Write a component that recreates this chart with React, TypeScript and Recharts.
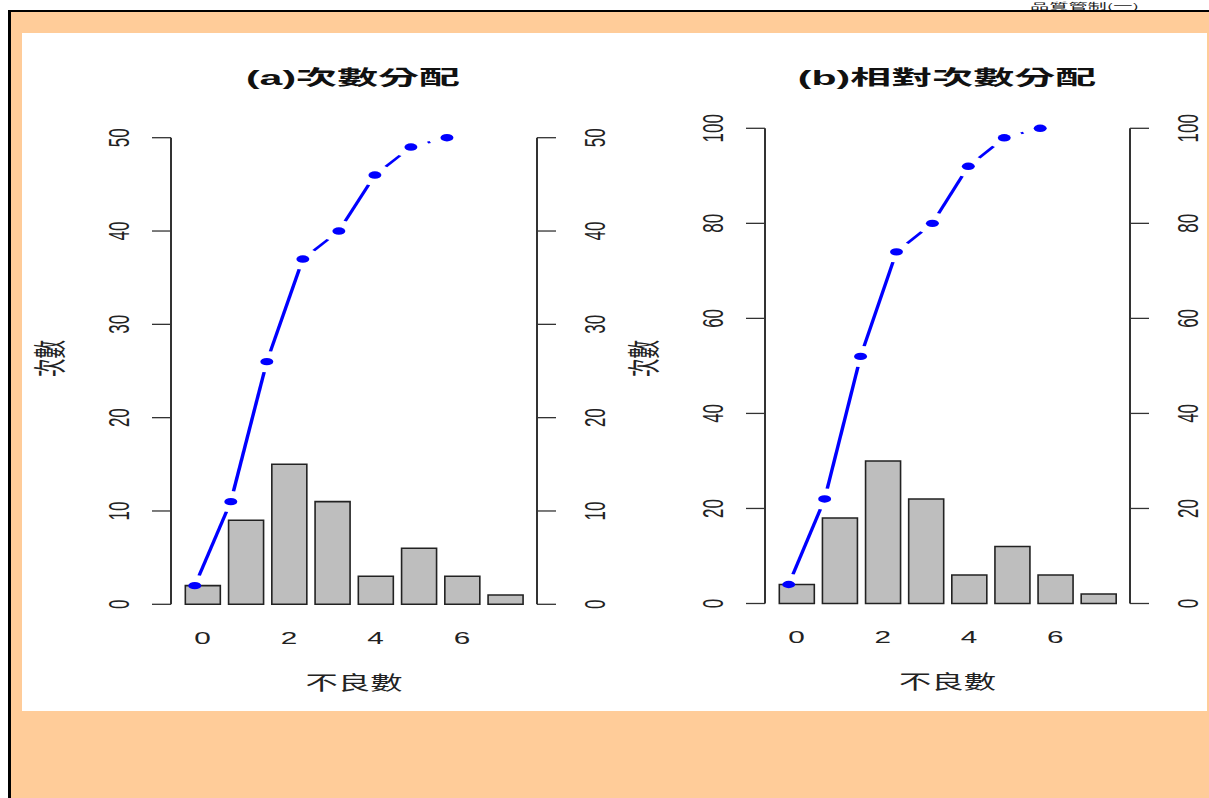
import React from 'react';
import { ComposedChart, Bar, Line, XAxis, YAxis } from 'recharts';

// 不良數 0..7 with their counts, cumulative counts and the same in percent
const defectCounts = ['0', '1', '2', '3', '4', '5', '6', '7'];
const frequency = [2, 9, 15, 11, 3, 6, 3, 1];
const cumulativeFrequency = [2, 11, 26, 37, 40, 46, 49, 50];
const relativeFrequency = [4, 18, 30, 22, 6, 12, 6, 2];
const cumulativeRelative = [4, 22, 52, 74, 80, 92, 98, 100];
const countTicks = [0, 10, 20, 30, 40, 50];
const percentTicks = [0, 20, 40, 60, 80, 100];

const SX = 1.75; // the figure is drawn wide: text and marks are stretched horizontally
const FONT = "'Liberation Sans', Arial, 'Noto Sans CJK TC', sans-serif";
const CJK = "'Noto Sans CJK TC', 'Liberation Sans', sans-serif";
const INK = '#222';
const AXIS = '#333';
const BLUE = '#0000FF';
const GAP = 10.5; // gap left around each point of the cumulative line
const Y_AXIS_W = 60;

type Margin = { top: number; right: number; bottom: number; left: number };

type PanelProps = {
  x: number;
  width: number;
  height: number;
  margin: Margin;
  title: string;
  values: number[];
  cumulative: number[];
  ticks: number[];
  yLabelY: number;
};

const leftTick = (p: any) => (
  <text
    transform={`translate(${p.x - 33.5},${p.y}) scale(${SX},1) rotate(-90)`}
    textAnchor="middle"
    dominantBaseline="central"
    fontSize={17}
    fill={INK}
    fontFamily={FONT}
  >
    {p.payload.value}
  </text>
);

const rightTick = (p: any) => (
  <text
    transform={`translate(${p.x + 39},${p.y}) scale(${SX},1) rotate(-90)`}
    textAnchor="middle"
    dominantBaseline="central"
    fontSize={17}
    fill={INK}
    fontFamily={FONT}
  >
    {p.payload.value}
  </text>
);

const bottomTick = (p: any) => (
  <text
    transform={`translate(${p.x},${p.y + 34}) scale(${SX},1)`}
    textAnchor="middle"
    dominantBaseline="central"
    fontSize={17}
    fill={INK}
    fontFamily={FONT}
  >
    {p.payload.value}
  </text>
);

// Point of the cumulative line plus the segment towards the next point,
// trimmed at both ends like a "both" type line.
const GapDot = (props: any) => {
  const { cx, cy, index, points } = props;
  if (cx == null || cy == null) return <g key={`gd-${index}`} />;
  const next = points && points[index + 1];
  let seg = null;
  if (next) {
    const dx = next.x - cx;
    const dy = next.y - cy;
    const t = GAP / Math.hypot(dx / SX, dy);
    if (t < 0.5) {
      seg = (
        <line
          x1={(cx + dx * t) / SX}
          y1={cy + dy * t}
          x2={(next.x - dx * t) / SX}
          y2={next.y - dy * t}
          stroke={BLUE}
          strokeWidth={2}
        />
      );
    }
  }
  return (
    <g key={`gd-${index}`} transform={`scale(${SX},1)`}>
      {seg}
      <circle cx={cx / SX} cy={cy} r={3.7} fill={BLUE} />
    </g>
  );
};

function Panel({ x, width, height, margin, title, values, cumulative, ticks, yLabelY }: PanelProps) {
  const rows = defectCounts.map((label, i) => ({
    label,
    idx: i,
    count: values[i],
    cum: cumulative[i],
  }));
  const max = ticks[ticks.length - 1];
  const plotLeft = margin.left + Y_AXIS_W;
  const plotRight = width - margin.right - Y_AXIS_W;
  const titleX = (plotLeft + plotRight) / 2 - 1;

  return (
    <div style={{ position: 'absolute', left: x, top: 0, width, height }}>
      <div
        style={{
          position: 'absolute',
          left: titleX - 300,
          width: 600,
          top: 44.5 - 15,
          height: 30,
          lineHeight: '30px',
          textAlign: 'center',
          fontFamily: FONT,
          fontWeight: 700,
          fontSize: 20.5,
          color: '#111',
          transform: 'scaleX(2)',
          whiteSpace: 'nowrap',
        }}
      >
        {title}
      </div>
      <ComposedChart width={width} height={height} data={rows} margin={margin}>
        <XAxis
          xAxisId="cat"
          dataKey="label"
          type="category"
          interval={1}
          axisLine={false}
          tickLine={false}
          tickSize={0}
          tickMargin={0}
          height={30}
          padding={{ left: 10, right: 10 }}
          tick={bottomTick}
          label={{
            content: (lp: any) => {
              const vb = lp.viewBox || {};
              return (
                <text
                  transform={`translate(${vb.x + vb.width / 2},${vb.y + 77.5}) scale(1.7,1)`}
                  textAnchor="middle"
                  dominantBaseline="central"
                  fontSize={19}
                  fill={INK}
                  fontFamily={CJK}
                >
                  不良數
                </text>
              );
            },
          }}
        />
        <XAxis xAxisId="pos" dataKey="idx" type="number" domain={[-0.66, 9.5]} hide />
        <YAxis
          yAxisId="l"
          orientation="left"
          width={Y_AXIS_W}
          domain={[0, max]}
          ticks={ticks}
          tickSize={19}
          tickMargin={0}
          axisLine={{ stroke: AXIS, strokeWidth: 2 }}
          tickLine={{ stroke: AXIS, strokeWidth: 1.3 }}
          tick={leftTick}
          label={{
            content: (lp: any) => {
              const vb = lp.viewBox || {};
              return (
                <text
                  transform={`translate(${vb.x + vb.width - 123},${yLabelY}) scale(1.8,1) rotate(-90)`}
                  textAnchor="middle"
                  dominantBaseline="central"
                  fontSize={18.5}
                  fill={INK}
                  fontFamily={CJK}
                >
                  次數
                </text>
              );
            },
          }}
        />
        {/* secondary scale on the right, same range as the left one */}
        <YAxis
          yAxisId="r"
          orientation="right"
          width={Y_AXIS_W}
          domain={[0, max]}
          ticks={ticks}
          allowDataOverflow
          tickSize={19}
          tickMargin={0}
          axisLine={{ stroke: AXIS, strokeWidth: 2 }}
          tickLine={{ stroke: AXIS, strokeWidth: 1.3 }}
          tick={rightTick}
        />
        <Bar
          xAxisId="cat"
          yAxisId="l"
          dataKey="count"
          fill="#BEBEBE"
          stroke={INK}
          strokeWidth={1.6}
          isAnimationActive={false}
        />
        <Line
          xAxisId="pos"
          yAxisId="l"
          dataKey="cum"
          stroke="none"
          dot={(p: any) => <GapDot {...p} key={`gd-${p.index}`} />}
          activeDot={false}
          isAnimationActive={false}
        />
      </ComposedChart>
    </div>
  );
}

export default function App() {
  return (
    <div
      style={{
        position: 'absolute',
        left: 0,
        top: 0,
        width: 1209,
        height: 798,
        background: '#FFFFFF',
        overflow: 'hidden',
      }}
    >
      <div
        style={{
          position: 'absolute',
          left: 1030,
          top: 2,
          fontFamily: CJK,
          fontSize: 8,
          lineHeight: '8px',
          color: '#222',
          transform: 'scaleX(2.4)',
          transformOrigin: 'left top',
          whiteSpace: 'nowrap',
        }}
      >
        品質管制(一)
      </div>
      <div
        style={{
          position: 'absolute',
          left: 8,
          top: 10,
          width: 1201,
          height: 788,
          boxSizing: 'border-box',
          borderTop: '2px solid #000',
          borderLeft: '3px solid #000',
          background: '#FFCC99',
        }}
      />
      <div
        style={{
          position: 'absolute',
          left: 22,
          top: 33,
          width: 1185,
          height: 678,
          background: '#FFFFFF',
        }}
      >
        <Panel
          x={0}
          width={590}
          height={678}
          margin={{ top: 104.7, right: 15, bottom: 76.7, left: 89 }}
          title="(a)次數分配"
          values={frequency}
          cumulative={cumulativeFrequency}
          ticks={countTicks}
          yLabelY={325.5}
        />
        <Panel
          x={590}
          width={595}
          height={678}
          margin={{ top: 95.3, right: 17, bottom: 77.5, left: 93 }}
          title="(b)相對次數分配"
          values={relativeFrequency}
          cumulative={cumulativeRelative}
          ticks={percentTicks}
          yLabelY={325.5}
        />
      </div>
    </div>
  );
}
